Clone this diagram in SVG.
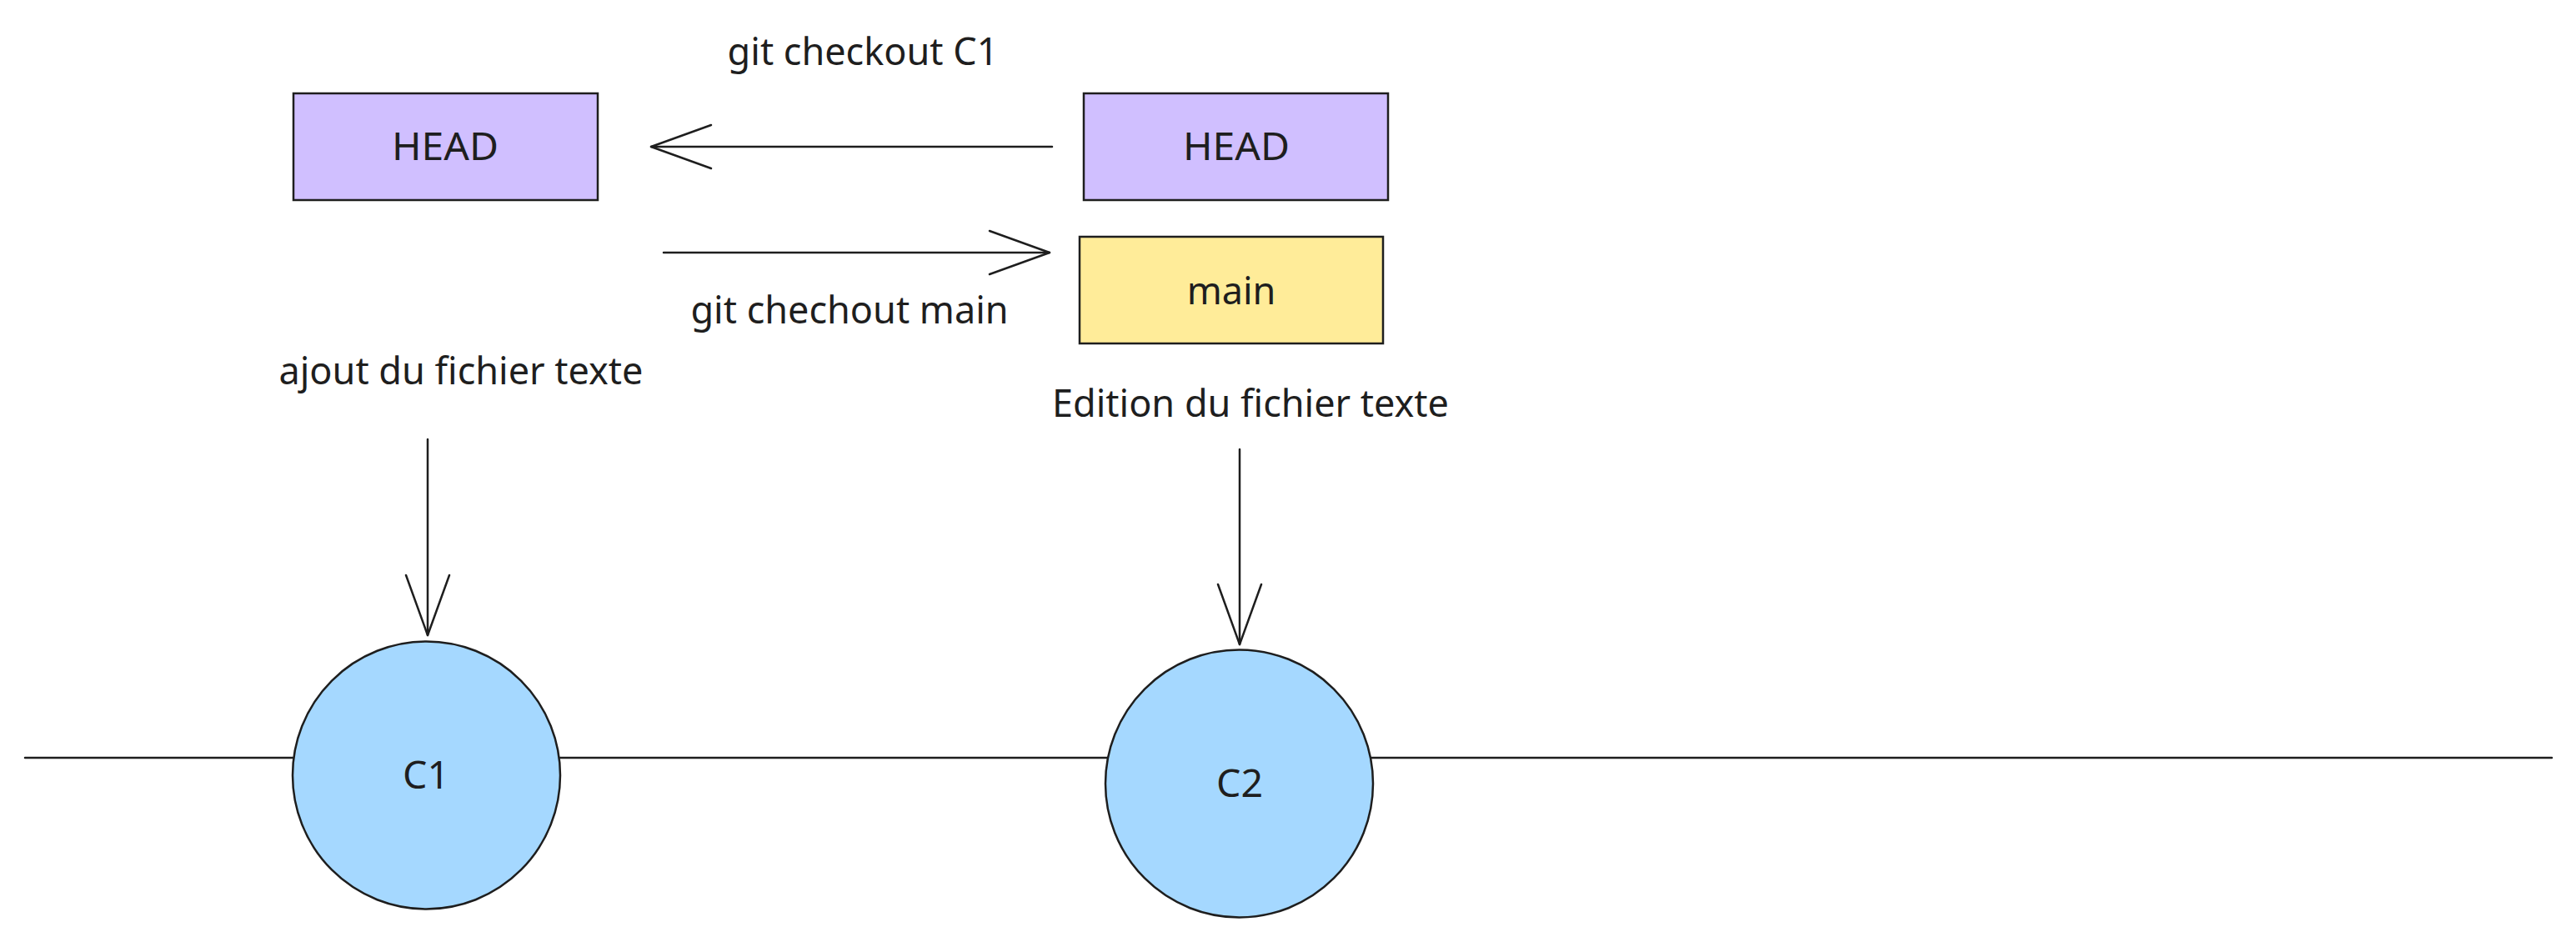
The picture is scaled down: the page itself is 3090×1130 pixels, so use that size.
<svg xmlns="http://www.w3.org/2000/svg" width="3090" height="1130" viewBox="0 0 3090 1130">
  <style>
    .txt { font-family: "Noto Sans", "Open Sans", "DejaVu Sans", sans-serif; font-size: 45px; fill: #1e1e1e; }
    .mid { text-anchor: middle; }
    .box { stroke: #1e1e1e; stroke-width: 2.5; }
    .head { fill: #d0bfff; }
    .branch { fill: #ffec99; }
    .commit { fill: #a5d8ff; stroke: #1e1e1e; stroke-width: 2.5; }
    .line { fill: none; stroke: #1e1e1e; stroke-width: 2.5; stroke-linecap: round; }
  </style>
  <defs>
    <marker id="chev" viewBox="-80 -32 86 64" refX="0" refY="0" markerWidth="86" markerHeight="64" markerUnits="userSpaceOnUse" orient="auto" overflow="visible">
      <path d="M-72,-26 L0,0 L-72,26" fill="none" stroke="#1e1e1e" stroke-width="2.5" stroke-linecap="round" stroke-linejoin="round"/>
    </marker>
  </defs>
  <rect width="3090" height="1130" fill="#ffffff"/>

  <g id="connectors">
    <path id="timeline" class="line" d="M30,909 L3061,909"/>
    <path id="arrow-checkout-c1" class="line" d="M1262,176 L781,176" marker-end="url(#chev)"/>
    <path id="arrow-checkout-main" class="line" d="M796,303 L1259,303" marker-end="url(#chev)"/>
    <path id="arrow-ajout" class="line" d="M513,527 L513,762" marker-end="url(#chev)"/>
    <path id="arrow-edition" class="line" d="M1487,539 L1487,773" marker-end="url(#chev)"/>
  </g>

  <g id="head-left">
    <rect class="box head" x="352" y="112" width="365" height="128"/>
    <text class="txt mid" x="534" y="192" textLength="128" lengthAdjust="spacingAndGlyphs">HEAD</text>
  </g>
  <g id="head-right">
    <rect class="box head" x="1300" y="112" width="365" height="128"/>
    <text class="txt mid" x="1483" y="192" textLength="128" lengthAdjust="spacingAndGlyphs">HEAD</text>
  </g>
  <g id="main">
    <rect class="box branch" x="1295" y="284" width="364" height="128"/>
    <text class="txt mid" x="1477" y="365">main</text>
  </g>
  <g id="c1">
    <circle class="commit" cx="511.5" cy="930" r="160.5"/>
    <text class="txt mid" x="511" y="946" textLength="56" lengthAdjust="spacingAndGlyphs">C1</text>
  </g>
  <g id="c2">
    <circle class="commit" cx="1486.5" cy="940" r="160.5"/>
    <text class="txt mid" x="1487" y="956" textLength="56" lengthAdjust="spacingAndGlyphs">C2</text>
  </g>

  <g id="labels">
    <text class="txt mid" x="1035" y="78">git checkout C1</text>
    <text class="txt mid" x="1019" y="388">git chechout main</text>
    <text class="txt mid" x="553" y="461">ajout du fichier texte</text>
    <text class="txt mid" x="1500" y="500">Edition du fichier texte</text>
  </g>
</svg>
